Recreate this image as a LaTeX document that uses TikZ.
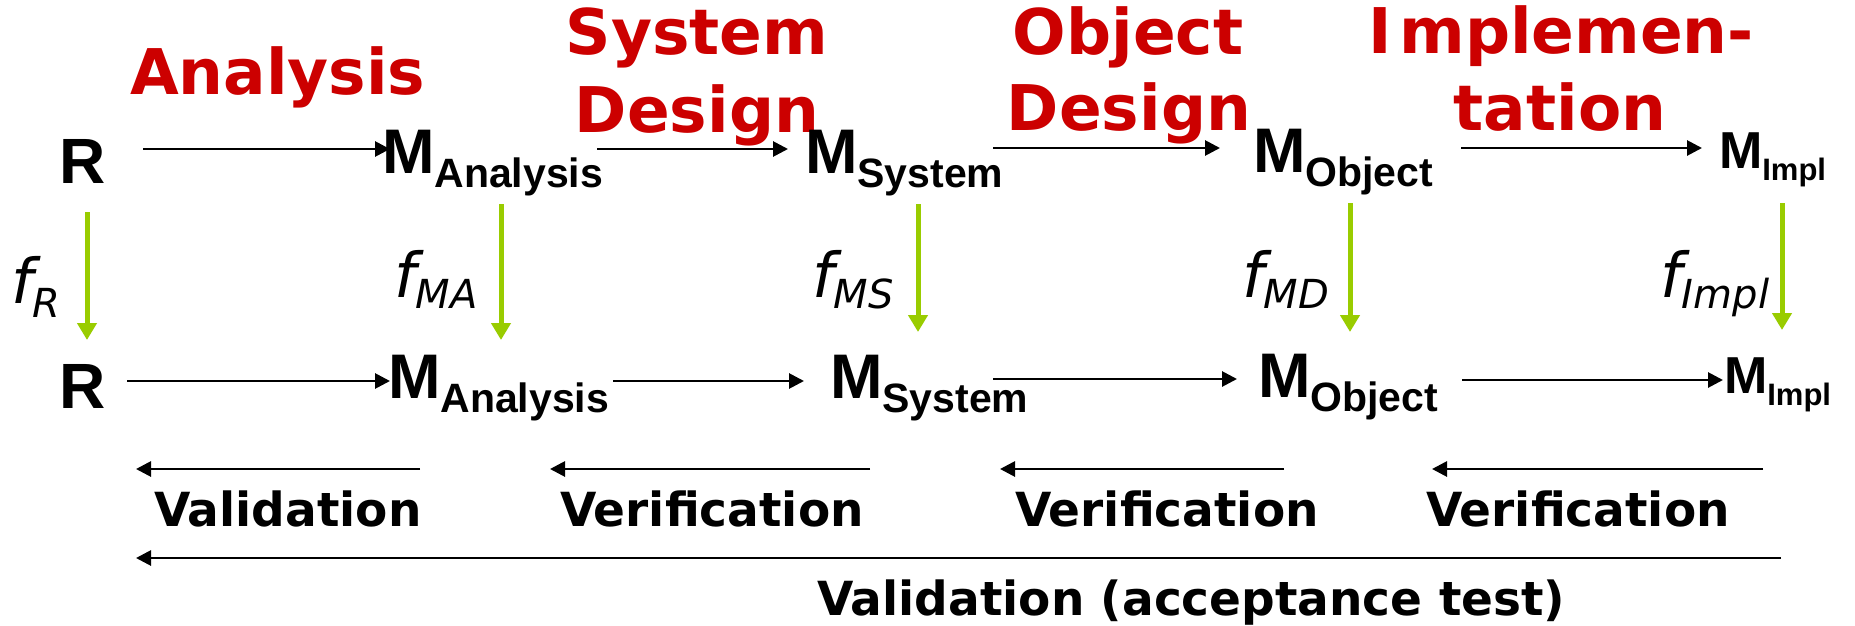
\documentclass[tikz,border=0pt]{standalone}
\usepackage{fontspec}
\usetikzlibrary{arrows.meta}
\newfontfamily\arialfam{Liberation Sans}
\newfontfamily\verdfam{DejaVu Sans}
\definecolor{phasered}{HTML}{CC0000}
\definecolor{mapgreen}{HTML}{99CC00}
% model name with a lowered subscript: {subscript}{size}{sub size}{drop}
\newcommand{\modelname}[4]{\fontsize{#2}{#2}\selectfont M\raisebox{-#4pt}{\fontsize{#3}{#3}\selectfont #1}}
% mapping name f with a lowered subscript
\newcommand{\mapname}[2]{f\raisebox{-#2pt}{\fontsize{40}{40}\selectfont #1}}

\begin{document}
\begin{tikzpicture}[x=1pt,y=-1pt,
  model/.style={anchor=base west, inner sep=0pt, outer sep=0pt, font=\arialfam\bfseries},
  phase/.style={anchor=base, inner sep=0pt, outer sep=0pt, text=phasered,
                font=\verdfam\bfseries\fontsize{63}{63}\selectfont},
  check/.style={anchor=base west, inner sep=0pt, outer sep=0pt,
                font=\verdfam\bfseries\fontsize{47}{47}\selectfont},
  fmap/.style={anchor=base west, inner sep=0pt, outer sep=0pt,
               font=\verdfam\itshape\fontsize{62}{62}\selectfont},
  seqarrow/.style={-{Triangle[length=15pt,width=15pt]}, line width=2.8pt, draw=black},
  maparrow/.style={-{Triangle[length=17pt,width=19pt]}, line width=5pt, draw=mapgreen}]

\useasboundingbox[fill=white] (0,0) rectangle (1855,626);

% phase titles
\node[phase, anchor=base west] (ph1) at (130,95) {Analysis};
\node[phase] (ph2a) at (697,55) {System};
\node[phase] (ph2b) at (697,132) {Design};
\node[phase] (ph3a) at (1128,55) {Object};
\node[phase] (ph3b) at (1129,130) {Design};
\node[phase] (ph4a) at (1561,54) {I\kern8pt mplemen-};
\node[phase] (ph4b) at (1560,130) {tation};

% upper row of models
\node[model] (R1) at (59,183) {\fontsize{64}{64}\selectfont R};
\node[model] (MA1) at (382,173) {\modelname{Analysis}{63}{41}{14}};
\node[model] (MS1) at (805,173) {\modelname{System}{63}{41}{14}};
\node[model] (MO1) at (1253,172) {\modelname{Object}{63}{41}{14}};
\node[model] (MI1) at (1719,168) {\modelname{Impl}{52}{31}{12}};

% lower row of models
\node[model] (R2) at (59,408) {\fontsize{64}{64}\selectfont R};
\node[model] (MA2) at (388,398) {\modelname{Analysis}{63}{41}{14}};
\node[model] (MS2) at (830,398) {\modelname{System}{63}{41}{14}};
\node[model] (MO2) at (1258,397) {\modelname{Object}{63}{41}{14}};
\node[model] (MI2) at (1724,393) {\modelname{Impl}{52}{31}{12}};

% mapping labels
\node[fmap] (fR) at (11,303) {\mapname{R}{14}};
\node[fmap] (fMA) at (394,297) {\mapname{MA}{11}};
\node[fmap] (fMS) at (812,297) {\mapname{MS}{11}};
\node[fmap] (fMD) at (1242,297) {\mapname{MD}{11}};
\node[fmap] (fImpl) at (1660,297) {\mapname{Impl}{11}};

% check labels
\node[check] (val) at (154,526) {Validation};
\node[check] (ver1) at (560,526) {Verification};
\node[check] (ver2) at (1015,526) {Verification};
\node[check] (ver3) at (1426,526) {Verification};
\node[check] (acc) at (817,615) {Validation (acceptance test)};

% development steps, upper row
\draw[seqarrow] ([shift={(84,-34)}]R1.base west) -- ([shift={(8,-24)}]MA1.base west);
\draw[seqarrow] ([shift={(215,-24)}]MA1.base west) -- ([shift={(-17,-24)}]MS1.base west);
\draw[seqarrow] ([shift={(188,-25)}]MS1.base west) -- ([shift={(-33,-24)}]MO1.base west);
\draw[seqarrow] ([shift={(208,-24)}]MO1.base west) -- ([shift={(-17,-20)}]MI1.base west);

% development steps, lower row
\draw[seqarrow] ([shift={(68,-27)}]R2.base west) -- ([shift={(2,-17)}]MA2.base west);
\draw[seqarrow] ([shift={(225,-17)}]MA2.base west) -- ([shift={(-26,-17)}]MS2.base west);
\draw[seqarrow] ([shift={(163,-19)}]MS2.base west) -- ([shift={(-21,-18)}]MO2.base west);
\draw[seqarrow] ([shift={(204,-17)}]MO2.base west) -- ([shift={(-1,-13)}]MI2.base west);

% mappings between the rows
\draw[maparrow] ([shift={(28,29)}]R1.base west) -- ([shift={(28,-68)}]R2.base west);
\draw[maparrow] ([shift={(119,31)}]MA1.base west) -- ([shift={(113,-58)}]MA2.base west);
\draw[maparrow] ([shift={(113,31)}]MS1.base west) -- ([shift={(88,-66)}]MS2.base west);
\draw[maparrow] ([shift={(97,31)}]MO1.base west) -- ([shift={(92,-65)}]MO2.base west);
\draw[maparrow] ([shift={(63,35)}]MI1.base west) -- ([shift={(58,-63)}]MI2.base west);

% checks running backwards
\draw[seqarrow] ([shift={(266,-57)}]val.base west) -- ([shift={(-18,-57)}]val.base west);
\draw[seqarrow] ([shift={(310,-57)}]ver1.base west) -- ([shift={(-10,-57)}]ver1.base west);
\draw[seqarrow] ([shift={(269,-57)}]ver2.base west) -- ([shift={(-15,-57)}]ver2.base west);
\draw[seqarrow] ([shift={(337,-57)}]ver3.base west) -- ([shift={(6,-57)}]ver3.base west);
\draw[seqarrow] ([shift={(964,-57)}]acc.base west) -- ([shift={(-681,-57)}]acc.base west);
\end{tikzpicture}
\end{document}
